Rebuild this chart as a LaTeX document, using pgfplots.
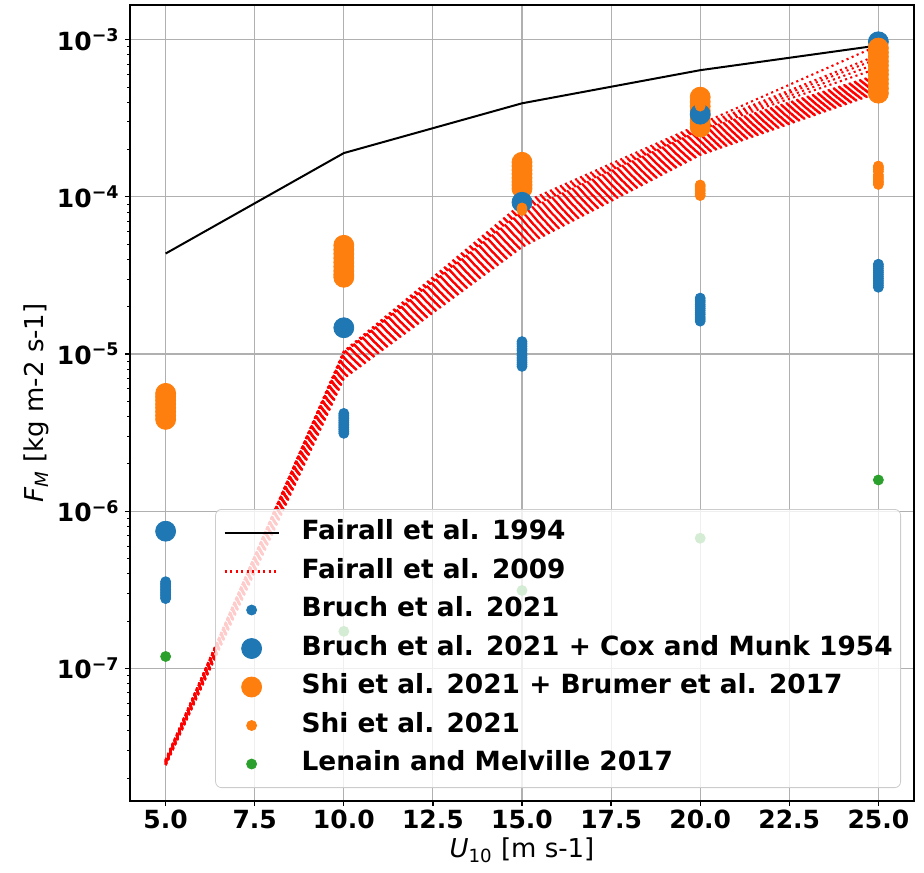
\documentclass[border=0pt]{standalone}
\usepackage{pgfplots}
\pgfplotsset{compat=1.18}
\usepackage{pgfplotstable}
\usepackage{fontspec}
\setmainfont{DejaVu Sans}

\definecolor{tabblue}{HTML}{1F77B4}
\definecolor{taborange}{HTML}{FF7F0E}
\definecolor{tabgreen}{HTML}{2CA02C}
\definecolor{gridgray}{HTML}{B0B0B0}

% Fairall et al. 2009: one column per parameter set (u = upper members, b = main band)
\pgfplotstableread{
x  u1      u2      u3      u4      u5      b0       b1       b2      b3      b4      b5      b6      b7      b8      b9      b10     b11     b12     b13     b14     b15     b16     b17     b18     b19     b20     b21     b22     b23
5  2.55e-8 2.55e-8 2.55e-8 2.55e-8 2.55e-8 2.62e-8  2.61e-8  2.60e-8 2.59e-8 2.58e-8 2.57e-8 2.56e-8 2.55e-8 2.54e-8 2.53e-8 2.52e-8 2.51e-8 2.50e-8 2.50e-8 2.49e-8 2.48e-8 2.47e-8 2.46e-8 2.46e-8 2.45e-8 2.44e-8 2.43e-8 2.43e-8 2.42e-8
10 1.04e-5 1.03e-5 1.03e-5 1.02e-5 1.02e-5 1.021e-5 1.005e-5 9.89e-6 9.73e-6 9.55e-6 9.40e-6 9.25e-6 9.10e-6 8.95e-6 8.81e-6 8.67e-6 8.53e-6 8.38e-6 8.24e-6 8.11e-6 7.98e-6 7.85e-6 7.73e-6 7.60e-6 7.48e-6 7.35e-6 7.23e-6 7.11e-6 7.00e-6
15 9.1e-5  8.8e-5  8.6e-5  8.4e-5  8.2e-5  8.00e-5  7.82e-5  7.65e-5 7.48e-5 7.32e-5 7.16e-5 7.00e-5 6.85e-5 6.69e-5 6.55e-5 6.40e-5 6.26e-5 6.13e-5 5.99e-5 5.86e-5 5.73e-5 5.61e-5 5.48e-5 5.36e-5 5.24e-5 5.13e-5 5.02e-5 4.91e-5 4.80e-5
20 2.90e-4 2.82e-4 2.77e-4 2.72e-4 2.68e-4 2.65e-4  2.61e-4  2.57e-4 2.53e-4 2.49e-4 2.45e-4 2.41e-4 2.37e-4 2.34e-4 2.30e-4 2.26e-4 2.23e-4 2.20e-4 2.16e-4 2.13e-4 2.10e-4 2.06e-4 2.03e-4 2.00e-4 1.97e-4 1.94e-4 1.91e-4 1.88e-4 1.85e-4
25 9.2e-4  8.0e-4  7.6e-4  7.1e-4  6.6e-4  6.00e-4  5.93e-4  5.86e-4 5.79e-4 5.73e-4 5.66e-4 5.60e-4 5.53e-4 5.47e-4 5.41e-4 5.35e-4 5.28e-4 5.22e-4 5.16e-4 5.10e-4 5.05e-4 4.99e-4 4.93e-4 4.88e-4 4.82e-4 4.76e-4 4.71e-4 4.66e-4 4.60e-4
}\fairallB

% Fairall et al. 1994
\pgfplotstableread{
x  y
5  4.36e-5
10 1.90e-4
15 3.94e-4
20 6.40e-4
25 9.20e-4
}\fairallA

\pgfplotsset{
  legimg/.style={legend image code/.code={%
    \draw[mark repeat=2,mark phase=2,fill opacity=1,draw opacity=1,##1] plot coordinates {(0pt,0pt)(13.5pt,0pt)(27pt,0pt)};}},
  smalldot/.style={only marks, mark=*, mark size=2.5pt, color=#1, mark options={draw=#1, fill=#1}},
  bigdot/.style={only marks, mark=*, mark size=5pt, color=#1, mark options={draw=#1, fill=#1}},
  fairB/.style={red, line width=1.05pt, dash pattern=on 1.05pt off 1.7pt, no markers},
}

\begin{document}
\begin{tikzpicture}
\useasboundingbox (-65pt,-35.5pt) rectangle (397pt,400.5pt);
\begin{axis}[
  at={(0,0)}, anchor=south west,
  scale only axis, width=392pt, height=398pt,
  xmin=4, xmax=26,
  ymode=log, ymin=1.432e-8, ymax=1.663e-3,
  xtick={5,7.5,10,12.5,15,17.5,20,22.5,25},
  ytick={1e-7,1e-6,1e-5,1e-4,1e-3},
  yticklabels={10\textsuperscript{−7},10\textsuperscript{−6},10\textsuperscript{−5},10\textsuperscript{−4},10\textsuperscript{−3}},
  minor ytick={2e-8,3e-8,4e-8,5e-8,6e-8,7e-8,8e-8,9e-8,
               2e-7,3e-7,4e-7,5e-7,6e-7,7e-7,8e-7,9e-7,
               2e-6,3e-6,4e-6,5e-6,6e-6,7e-6,8e-6,9e-6,
               2e-5,3e-5,4e-5,5e-5,6e-5,7e-5,8e-5,9e-5,
               2e-4,3e-4,4e-4,5e-4,6e-4,7e-4,8e-4,9e-4},
  xticklabel style={font=\bfseries\fontsize{12.5}{15}\selectfont, inner sep=2pt},
  yticklabel style={font=\bfseries\fontsize{12.5}{15}\selectfont, inner sep=2.5pt},
  /pgf/number format/.cd, fixed, fixed zerofill, precision=1, assume math mode=true,
  /pgfplots/.cd,
  tick align=outside, xtick pos=bottom, ytick pos=left,
  major tick length=2.5pt, minor tick length=1.4pt,
  tick style={black, line width=0.6pt},
  minor tick style={black, line width=0.45pt},
  axis line style={black, line width=0.6pt},
  grid=major, major grid style={gridgray, line width=0.55pt},
  xlabel={\textit{U}\textsubscript{10} [m s-1]},
  ylabel={\textit{F}\textsubscript{\textit{M}} [kg m-2 s-1]},
  xlabel style={font=\fontsize{13}{15.6}\selectfont, at={(axis description cs:0.5,0)}, anchor=base, yshift=-28pt},
  ylabel style={font=\fontsize{13}{15.6}\selectfont, at={([xshift=-43pt]axis description cs:0,0.5)}, anchor=base},
  legend cell align=left,
  legimg,
  legend style={at={(0.98342,0.01633)}, anchor=south east,
    draw=black!20, fill=white, fill opacity=0.8, text opacity=1,
    rounded corners=3pt, inner xsep=4pt, inner ysep=5.2pt,
    row sep=6.05pt, column sep=11pt,
    nodes={inner sep=0pt, text height=10pt, text depth=3.2pt},
    font=\bfseries\fontsize{13.2}{15.8}\selectfont},
]

% Shi et al. 2021 + Brumer et al. 2017
\addplot[bigdot=taborange, forget plot] coordinates {
  (5,5.62e-6) (5,5.35e-6) (5,5.08e-6) (5,4.8e-6) (5,4.55e-6) (5,4.3e-6) (5,4.06e-6) (5,3.84e-6)
  (10,4.92e-5) (10,4.62e-5) (10,4.35e-5) (10,4.08e-5) (10,3.83e-5) (10,3.6e-5) (10,3.38e-5) (10,3.2e-5) (10,3.08e-5)
  (15,1.66e-4) (15,1.57e-4) (15,1.48e-4) (15,1.4e-4) (15,1.32e-4) (15,1.25e-4) (15,1.19e-4) (15,1.13e-4)
  (20,4.31e-4) (20,4.03e-4) (20,3.77e-4) (20,3.53e-4) (20,3.3e-4) (20,3.1e-4) (20,2.93e-4) (20,2.78e-4)
};
% Bruch et al. 2021
\addplot[smalldot=tabblue, forget plot] coordinates {
  (5,3.56e-7) (5,3.48e-7) (5,3.40e-7) (5,3.33e-7) (5,3.25e-7) (5,3.18e-7)
  (5,3.11e-7) (5,3.04e-7) (5,2.97e-7) (5,2.91e-7) (5,2.84e-7) (5,2.78e-7)
  (10,4.19e-6) (10,4.08e-6) (10,3.97e-6) (10,3.87e-6) (10,3.77e-6) (10,3.67e-6)
  (10,3.58e-6) (10,3.49e-6) (10,3.40e-6) (10,3.31e-6) (10,3.22e-6) (10,3.13e-6)
  (15,1.20e-5) (15,1.16e-5) (15,1.12e-5) (15,1.08e-5) (15,1.05e-5) (15,1.01e-5)
  (15,9.78e-6) (15,9.46e-6) (15,9.15e-6) (15,8.86e-6) (15,8.60e-6) (15,8.35e-6)
  (20,2.27e-5) (20,2.20e-5) (20,2.14e-5) (20,2.07e-5) (20,2.01e-5) (20,1.95e-5)
  (20,1.89e-5) (20,1.83e-5) (20,1.78e-5) (20,1.72e-5) (20,1.67e-5) (20,1.62e-5)
  (25,3.73e-5) (25,3.62e-5) (25,3.51e-5) (25,3.40e-5) (25,3.30e-5) (25,3.20e-5)
  (25,3.10e-5) (25,3.01e-5) (25,2.92e-5) (25,2.83e-5) (25,2.74e-5) (25,2.66e-5)
};
% Bruch et al. 2021 + Cox and Munk 1954
\addplot[bigdot=tabblue, forget plot] coordinates {
  (5,7.46e-7) (10,1.47e-5) (15,9.24e-5) (20,3.36e-4) (25,9.7e-4)
};
\addplot[bigdot=taborange, forget plot] coordinates {
  (25,8.85e-4) (25,8.3e-4) (25,7.8e-4) (25,7.3e-4) (25,6.85e-4) (25,6.4e-4) (25,6.0e-4)
  (25,5.6e-4) (25,5.25e-4) (25,4.9e-4) (25,4.57e-4)
};
% Shi et al. 2021
\addplot[smalldot=taborange, forget plot] coordinates {
  (5,4.6e-6) (5,4.2e-6) (10,3.9e-5) (10,3.5e-5)
  (15,8.5e-5) (15,8.2e-5) (20,3.78e-4)
  (20,1.19e-4) (20,1.16e-4) (20,1.12e-4) (20,1.09e-4) (20,1.05e-4) (20,1.02e-4)
  (25,1.57e-4) (25,1.53e-4) (25,1.49e-4) (25,1.45e-4) (25,1.38e-4) (25,1.34e-4)
  (25,1.30e-4) (25,1.26e-4) (25,1.23e-4) (25,1.20e-4)
};
% Lenain and Melville 2017
\addplot[smalldot=tabgreen, forget plot] coordinates {
  (5,1.19e-7) (10,1.72e-7) (15,3.13e-7) (20,6.73e-7) (25,1.58e-6)
};

% Fairall et al. 2009
\pgfplotsinvokeforeach{u1,u2,u3,u4,u5,b0,b1,b2,b3,b4,b5,b6,b7,b8,b9,b10,b11,b12,b13,b14,b15,b16,b17,b18,b19,b20,b21,b22,b23}{
  \addplot[fairB, forget plot] table[x=x, y=#1] {\fairallB};
}
% Fairall et al. 1994
\addplot[black, line width=1pt, no markers, forget plot] table[x=x, y=y] {\fairallA};

% legend
\addlegendimage{black, line width=1pt, legimg}
\addlegendentry{Fairall et al. 1994}
\addlegendimage{fairB, legimg}
\addlegendentry{Fairall et al. 2009}
\addlegendimage{smalldot=tabblue, legimg}
\addlegendentry{Bruch et al. 2021}
\addlegendimage{bigdot=tabblue, legimg}
\addlegendentry{Bruch et al. 2021 + Cox and Munk 1954}
\addlegendimage{bigdot=taborange, legimg}
\addlegendentry{Shi et al. 2021 + Brumer et al. 2017}
\addlegendimage{smalldot=taborange, legimg}
\addlegendentry{Shi et al. 2021}
\addlegendimage{smalldot=tabgreen, legimg}
\addlegendentry{Lenain and Melville 2017}
\end{axis}
\end{tikzpicture}
\end{document}
